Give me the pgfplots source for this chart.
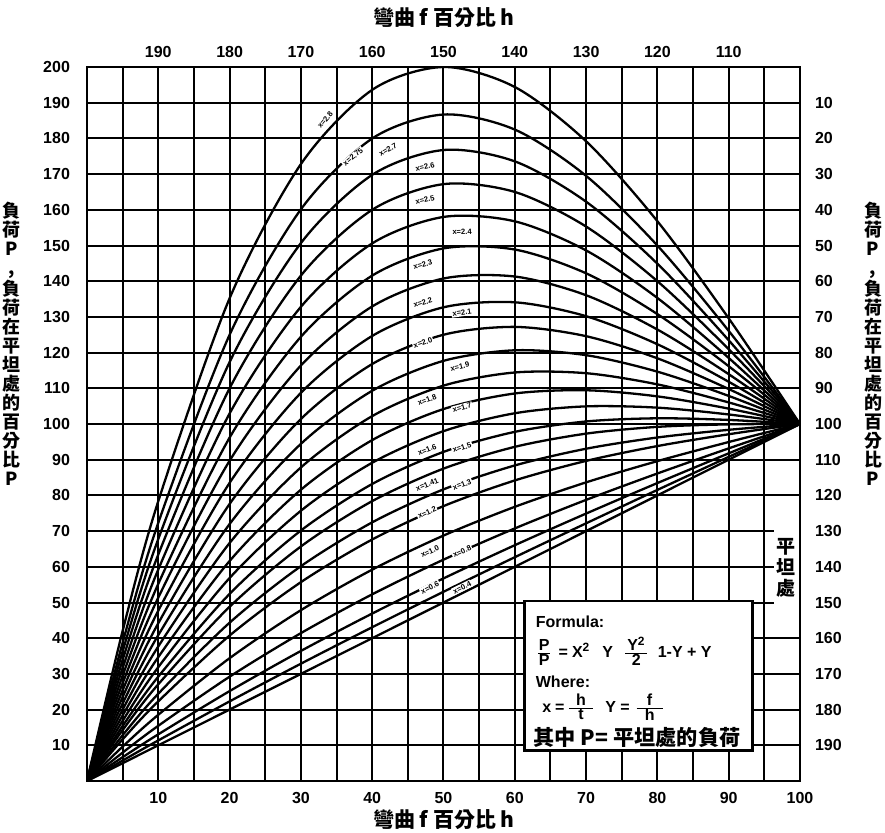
\documentclass[border=0pt]{standalone}
\usepackage{pgfplots}
\pgfplotsset{compat=1.18}
\usepackage{fontspec}
\setmainfont{Liberation Sans}
\newfontfamily\cjk{Noto Sans CJK TC}
\newfontfamily\tickfont{Liberation Sans}
\tikzset{lbl/.style={font=\bfseries\fontsize{3.8}{4}\selectfont, fill=white, inner sep=0.5pt},
  ftxt/.style={anchor=west, inner sep=0pt, font=\bfseries\fontsize{8}{9}\selectfont}}
\newcommand{\wfr}[3]{$\frac{\hbox to #3{\hfil #1\hfil}}{\hbox to #3{\hfil #2\hfil}}$}
\begin{document}
\begin{tikzpicture}
\useasboundingbox (0pt,0pt) rectangle (442.5pt,416pt);
\pgfplotsset{
  curve/.style={black, line width=1.15pt, smooth, mark=none},
  common/.style={
    at={(43.5pt,25.5pt)}, anchor=south west,
    scale only axis, width=356.5pt, height=357pt,
    xmin=0, xmax=100, ymin=0, ymax=200,
    major tick length=0pt, minor tick length=0pt,
    axis line style={black, line width=1.4pt},
    tick label style={font=\tickfont\bfseries\fontsize{8}{9}\selectfont},
    /pgf/number format/assume math mode=true,
  }
}
\begin{axis}[common,
  xtick={10,20,...,100}, minor xtick={5,15,...,95},
  ytick={10,20,...,200},
  grid=both,
  major grid style={black, line width=1pt},
  minor grid style={black, line width=1pt},
  xticklabel style={yshift=-2pt},
  yticklabel style={xshift=-5pt},
]
% x^2 = 8 (h/t = 2.83)
\addplot[curve] coordinates {(0,0)(5,42.05)(10,78.4)(20,135.2)(30,172.8)(40,193.6)(50,200)(60,194.4)(70,179.2)(80,156.8)(90,129.6)(100,100)};
% 2.7
\addplot[curve] coordinates {(0,0)(5,38.76)(10,72.33)(20,124.98)(30,160.13)(40,179.97)(50,186.69)(60,182.47)(70,169.51)(80,149.98)(90,126.09)(100,100)};
% 2.6
\addplot[curve] coordinates {(0,0)(5,36.31)(10,67.80)(20,117.34)(30,150.67)(40,169.79)(50,176.75)(60,173.57)(70,162.27)(80,144.90)(90,123.46)(100,100)};
% 2.5
\addplot[curve] coordinates {(0,0)(5,33.95)(10,63.44)(20,110)(30,141.56)(40,160)(50,167.19)(60,165)(70,155.31)(80,140)(90,120.94)(100,100)};
% 2.4
\addplot[curve] coordinates {(0,0)(5,31.68)(10,59.25)(20,102.94)(30,132.82)(40,150.59)(50,158)(60,156.77)(70,148.62)(80,135.30)(90,118.51)(100,100)};
% 2.3
\addplot[curve] coordinates {(0,0)(5,29.50)(10,55.23)(20,96.18)(30,124.43)(40,141.57)(50,149.19)(60,148.87)(70,142.21)(80,130.78)(90,116.19)(100,100)};
% 2.2
\addplot[curve] coordinates {(0,0)(5,27.42)(10,51.38)(20,89.70)(30,116.39)(40,132.93)(50,140.75)(60,141.31)(70,136.07)(80,126.46)(90,113.96)(100,100)};
% 2.1
\addplot[curve] coordinates {(0,0)(5,25.42)(10,47.71)(20,83.50)(30,108.72)(40,124.67)(50,132.69)(60,134.09)(70,130.20)(80,122.34)(90,111.83)(100,100)};
% 2.0
\addplot[curve] coordinates {(0,0)(5,23.53)(10,44.2)(20,77.6)(30,101.4)(40,116.8)(50,125)(60,127.2)(70,124.6)(80,118.4)(90,109.8)(100,100)};
% 1.9
\addplot[curve] coordinates {(0,0)(5,21.72)(10,40.87)(20,71.98)(30,94.44)(40,109.31)(50,117.69)(60,120.65)(70,119.28)(80,114.66)(90,107.87)(100,100)};
% 1.8
\addplot[curve] coordinates {(0,0)(5,20.01)(10,37.70)(20,66.66)(30,87.83)(40,102.21)(50,110.75)(60,114.43)(70,114.23)(80,111.10)(90,106.04)(100,100)};
% 1.7
\addplot[curve] coordinates {(0,0)(5,18.38)(10,34.71)(20,61.62)(30,81.59)(40,95.49)(50,104.19)(60,108.55)(70,109.45)(80,107.74)(90,104.31)(100,100)};
% 1.6
\addplot[curve] coordinates {(0,0)(5,16.86)(10,31.89)(20,56.86)(30,75.70)(40,89.15)(50,98)(60,103.01)(70,104.94)(80,104.58)(90,102.67)(100,100)};
% 1.5
\addplot[curve] coordinates {(0,0)(5,15.42)(10,29.24)(20,52.4)(30,70.16)(40,83.2)(50,92.19)(60,97.8)(70,100.71)(80,101.6)(90,101.14)(100,100)};
% 1.41
\addplot[curve] coordinates {(0,0)(5,14.26)(10,27.1)(20,48.8)(30,65.7)(40,78.4)(50,87.5)(60,93.6)(70,97.3)(80,99.2)(90,99.9)(100,100)};
% 1.3
\addplot[curve] coordinates {(0,0)(5,12.83)(10,24.45)(20,44.34)(30,60.17)(40,72.45)(50,81.69)(60,88.39)(70,93.07)(80,96.22)(90,98.37)(100,100)};
% 1.2
\addplot[curve] coordinates {(0,0)(5,11.67)(10,22.31)(20,40.74)(30,55.70)(40,67.65)(50,77)(60,84.19)(70,89.66)(80,93.82)(90,97.13)(100,100)};
% 1.0
\addplot[curve] coordinates {(0,0)(5,9.63)(10,18.55)(20,34.4)(30,47.85)(40,59.2)(50,68.75)(60,76.8)(70,83.65)(80,89.6)(90,94.95)(100,100)};
% 0.8
\addplot[curve] coordinates {(0,0)(5,7.96)(10,15.47)(20,29.22)(30,41.42)(40,52.29)(50,62)(60,70.75)(70,78.74)(80,86.14)(90,93.17)(100,100)};
% 0.6
\addplot[curve] coordinates {(0,0)(5,6.67)(10,13.08)(20,25.18)(30,36.43)(40,46.91)(50,56.75)(60,66.05)(70,74.91)(80,83.46)(90,91.78)(100,100)};
% 0.4
\addplot[curve] coordinates {(0,0)(5,5.74)(10,11.37)(20,22.30)(30,32.86)(40,43.07)(50,53)(60,62.69)(70,72.18)(80,81.54)(90,90.79)(100,100)};
% 0
\addplot[curve] coordinates {(0,0)(50,50)(100,100)};

% curve labels
\node[lbl, rotate=50] at (axis cs:33.4,185.2) {x=2.8};
\node[lbl, rotate=40] at (axis cs:37.3,174.8) {x=2.75};
\node[lbl, rotate=30] at (axis cs:42.2,176.8) {x=2.7};
\node[lbl, rotate=12] at (axis cs:47.4,172) {x=2.6};
\node[lbl, rotate=13] at (axis cs:47.4,162.8) {x=2.5};
\node[lbl, rotate=2] at (axis cs:52.6,153.8) {x=2.4};
\node[lbl, rotate=15] at (axis cs:47.1,144.6) {x=2.3};
\node[lbl, rotate=16] at (axis cs:47.1,134) {x=2.2};
\node[lbl, rotate=8] at (axis cs:52.6,131.2) {x=2.1};
\node[lbl, rotate=18] at (axis cs:47.1,122.8) {x=2.0};
\node[lbl, rotate=12] at (axis cs:52.3,116.1) {x=1.9};
\node[lbl, rotate=20] at (axis cs:47.7,106.8) {x=1.8};
\node[lbl, rotate=15] at (axis cs:52.6,104.6) {x=1.7};
\node[lbl, rotate=21] at (axis cs:47.7,92.8) {x=1.6};
\node[lbl, rotate=18] at (axis cs:52.6,93.4) {x=1.5};
\node[lbl, rotate=22] at (axis cs:47.7,83) {x=1.41};
\node[lbl, rotate=20] at (axis cs:52.6,83) {x=1.3};
\node[lbl, rotate=24] at (axis cs:47.7,75.2) {x=1.2};
\node[lbl, rotate=25] at (axis cs:48.1,64.3) {x=1.0};
\node[lbl, rotate=24] at (axis cs:52.6,64.3) {x=0.8};
\node[lbl, rotate=26] at (axis cs:48.1,54.2) {x=0.6};
\node[lbl, rotate=26] at (axis cs:52.6,54.2) {x=0.4};

% formula box
\draw[fill=white, line width=1.4pt] (axis cs:61.4,8.5) rectangle (axis cs:93.3,50.4);
\node[ftxt] at (axis cs:62.9,44.7) {Formula:};
\node[ftxt] at (axis cs:62.9,36.3)
  {\wfr{P}{P}{6pt}\hspace{3pt}=\hspace{2pt}X\textsuperscript{2}\hspace{6pt}Y\hspace{5pt}\wfr{Y\textsuperscript{2}}{2}{11pt}\hspace{4pt}1-Y + Y};
\node[ftxt] at (axis cs:62.9,27.9) {Where:};
\node[ftxt] at (axis cs:63.8,20.6)
  {x\hspace{2pt}=\hspace{1pt}\wfr{h}{t}{12pt}\hspace{5pt}Y = \wfr{f}{h}{13pt}};
\node[anchor=west, inner sep=0pt, font=\cjk\bfseries\fontsize{10.6}{12}\selectfont] at (axis cs:62.6,12.3)
  {其中 P= 平坦處的負荷};

% flat label
\node[fill=white, inner xsep=1.6pt, inner ysep=8.5pt, align=center, font=\cjk\bfseries\fontsize{9.5}{10.5}\selectfont]
  at (axis cs:98.1,59.8) {平\\坦\\處};
\end{axis}

\begin{axis}[common,
  axis x line*=top, axis y line*=right,
  xtick={10,20,...,90}, xticklabels={190,180,170,160,150,140,130,120,110},
  ytick={10,20,...,190}, yticklabels={190,180,170,160,150,140,130,120,110,100,90,80,70,60,50,40,30,20,10},
  xticklabel style={yshift=1pt},
  yticklabel style={xshift=4pt},
]
\end{axis}

% titles and side labels
\node[font=\cjk\bfseries\fontsize{10.5}{12}\selectfont] at (222pt,407pt) {彎曲 f 百分比 h};
\node[font=\cjk\bfseries\fontsize{10.5}{12}\selectfont] at (222pt,6pt) {彎曲 f 百分比 h};
\node[align=center, inner sep=0pt, font=\cjk\bfseries\fontsize{9}{9.5}\selectfont] at (6pt,244pt)
  {負\\荷\\P\\,\\負\\荷\\在\\平\\坦\\處\\的\\百\\分\\比\\P};
\node[align=center, inner sep=0pt, font=\cjk\bfseries\fontsize{9}{9.5}\selectfont] at (436.5pt,244pt)
  {負\\荷\\P\\,\\負\\荷\\在\\平\\坦\\處\\的\\百\\分\\比\\P};
\end{tikzpicture}
\end{document}
